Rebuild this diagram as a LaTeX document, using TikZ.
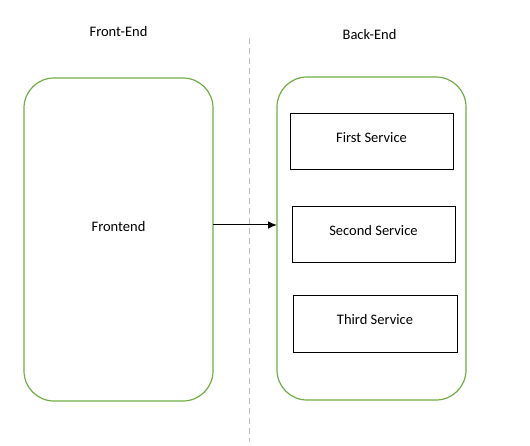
\documentclass[tikz,border=0pt]{standalone}
\usepackage{fontspec}
\setmainfont{Carlito}
\usetikzlibrary{arrows.meta}
\definecolor{grn}{HTML}{70AD47}
\definecolor{dashgray}{HTML}{BFBFBF}
\begin{document}
\begin{tikzpicture}[x=1pt,y=-1pt,
  lane/.style={draw=grn,line width=1.2pt,rounded corners=30pt},
  svc/.style={draw=black,line width=1pt},
  lbl/.style={font=\fontsize{14.5}{16}\selectfont,inner sep=0pt}]
\useasboundingbox (0,0) rectangle (530,446);
\draw[dashgray,line width=1pt,dash pattern=on 6pt off 4pt] (249,38) coordinate (dtop) -- (249,442) coordinate (dbot);
\draw[lane] (24,78) rectangle (213,401);
\node[lbl] (fe) at (118.5,226.5) {Frontend};
\coordinate (feR) at (213,225);
\draw[lane] (277,77) rectangle (466,400);
\coordinate (beL) at (277,225);
\draw[svc] (290,114) rectangle (453,170);
\node[lbl] (s1) at (371.5,137.5) {First Service};
\draw[svc] (292,207) rectangle (455,263);
\node[lbl] (s2) at (373.5,230.5) {Second Service};
\draw[svc] (293,296) rectangle (457,352);
\node[lbl] (s3) at (375,319.5) {Third Service};
\node[lbl] (t1) at (118.5,31.5) {Front-End};
\node[lbl] (t2) at (369.5,34.5) {Back-End};
\draw[-{Latex[length=9pt,width=7.5pt]},line width=1pt] (feR) -- (beL);
\end{tikzpicture}
\end{document}
